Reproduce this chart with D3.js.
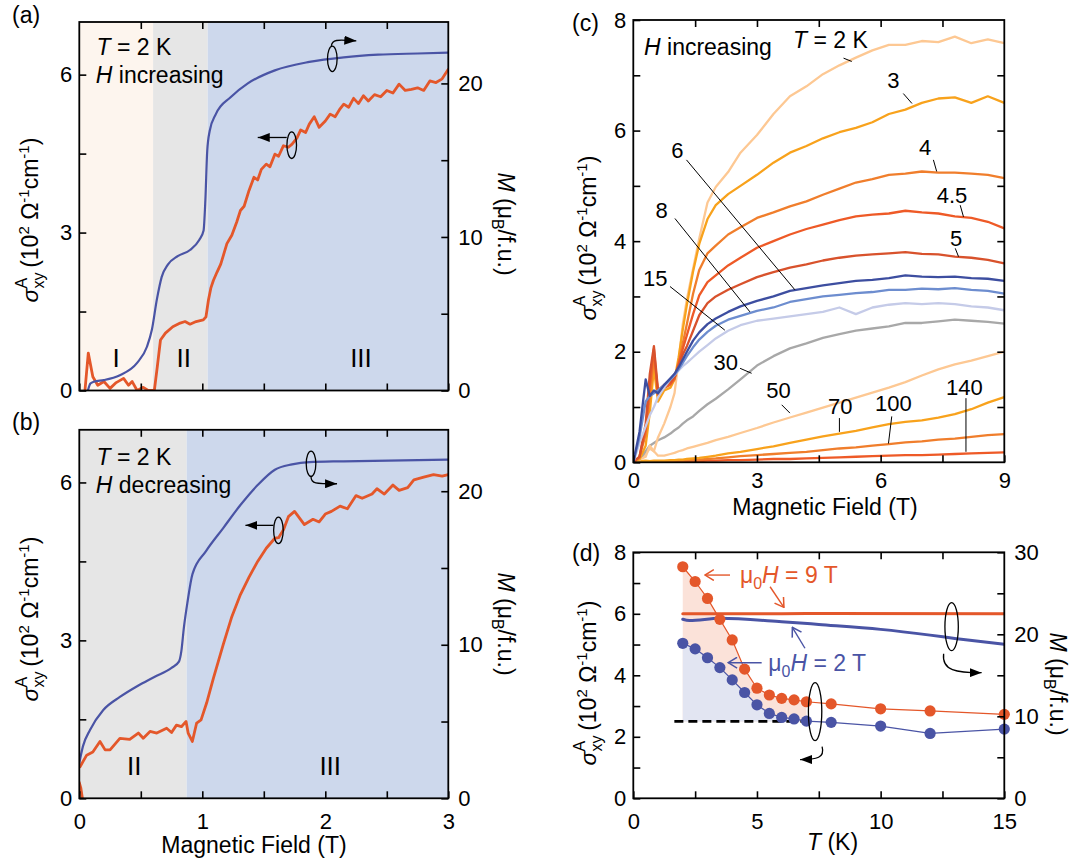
<!DOCTYPE html>
<html>
<head>
<meta charset="utf-8">
<script src="https://cdn.jsdelivr.net/npm/d3@7"></script>
<style>
body { margin: 0; background: #fff; }
svg { display: block; font-family: 'Liberation Sans', Arial, Helvetica, sans-serif; }
</style>
</head>
<body>
<svg></svg>
<script>

// ---------- data: panel (a), T = 2 K, H increasing ----------
let aRegionEdges = [0, 0.6, 1.044, 3]
let aRegionNames = ['I', 'II', 'III']
let aMField = [0.07, 0.09, 0.12, 0.2, 0.33, 0.47, 0.55, 0.59, 0.63, 0.67, 0.72, 0.8, 0.9, 0.975, 1.01, 1.025, 1.04, 1.06, 1.11, 1.23, 1.37, 1.59, 1.87, 2.15, 2.43, 2.75, 3.0]
let aM = [0, 0.45, 0.58, 0.68, 1.0, 1.8, 2.85, 3.95, 5.9, 7.4, 8.2, 8.75, 9.15, 9.8, 10.4, 12.4, 15.6, 16.9, 18.0, 19.1, 20.0, 20.85, 21.4, 21.7, 21.87, 21.95, 22.0]
let aSigField = [0.046, 0.073, 0.11, 0.15, 0.2, 0.25, 0.3, 0.36, 0.4, 0.43, 0.47, 0.52, 0.56, 0.61, 0.634, 0.66, 0.7, 0.76, 0.82, 0.86, 0.9, 0.95, 1.008, 1.03,
    1.05, 1.07, 1.09, 1.12, 1.15, 1.2, 1.24, 1.28, 1.31, 1.34, 1.38, 1.42, 1.45, 1.48, 1.52, 1.55, 1.59, 1.62, 1.66, 1.7, 1.73, 1.77, 1.8, 1.84, 1.87, 1.91,
    1.95, 2.0, 2.04, 2.08, 2.12, 2.15, 2.19, 2.23, 2.27, 2.31, 2.35, 2.4, 2.45, 2.5, 2.55, 2.6, 2.65, 2.7, 2.75, 2.8, 2.85, 2.9, 2.95, 3.0]
let aSig = [0, 0.71, 0.26, 0.1, 0.17, 0.04, 0.15, 0.23, 0.1, 0.17, 0, 0.06, 0, 0, 0.45, 0.96, 1.09, 1.21, 1.28, 1.31, 1.26, 1.31, 1.34, 1.4,
    1.72, 1.95, 2.09, 2.25, 2.4, 2.79, 2.95, 3.2, 3.42, 3.5, 3.8, 4.05, 4.0, 4.2, 4.3, 4.25, 4.49, 4.45, 4.65, 4.62, 4.68, 4.8, 4.95, 4.9, 5.06, 5.2,
    5.0, 5.12, 5.25, 5.2, 5.35, 5.44, 5.38, 5.55, 5.45, 5.6, 5.5, 5.62, 5.58, 5.7, 5.65, 5.82, 5.7, 5.72, 5.75, 5.7, 5.88, 5.85, 5.92, 6.1]

// ---------- data: panel (b), T = 2 K, H decreasing ----------
let bRegionEdges = [0, 0.873, 3]
let bRegionNames = ['II', 'III']
let bMField = [0, 0.03, 0.087, 0.195, 0.33, 0.47, 0.61, 0.75, 0.81, 0.83, 0.85, 0.88, 0.92, 1.03, 1.17, 1.31, 1.45, 1.59, 1.73, 1.87, 2.15, 3.0]
let bM = [2.3, 3.4, 4.45, 5.75, 6.6, 7.3, 7.9, 8.5, 8.9, 9.6, 11.1, 12.8, 14.6, 16.1, 17.6, 19.1, 20.4, 21.4, 21.75, 21.9, 21.95, 22.06]
let bSigField = [0.006, 0.06, 0.11, 0.168, 0.21, 0.25, 0.33, 0.41, 0.48, 0.52, 0.575, 0.63, 0.71, 0.75, 0.79, 0.83, 0.868, 0.885, 0.919, 0.954, 0.99, 1.035,
    1.09, 1.17, 1.24, 1.31, 1.38, 1.45, 1.52, 1.59, 1.62, 1.66, 1.7, 1.75, 1.83, 1.9, 1.95, 2.0, 2.05, 2.12, 2.18, 2.25, 2.3, 2.38, 2.42, 2.48, 2.55, 2.6,
    2.67, 2.72, 2.8, 2.88, 2.95, 3.0]
let bSig = [0.6, 0.82, 0.88, 1.08, 0.92, 0.92, 1.14, 1.12, 1.24, 1.14, 1.27, 1.24, 1.33, 1.25, 1.39, 1.36, 1.46, 1.24, 1.08, 1.43, 1.49, 1.81,
    2.28, 2.92, 3.45, 3.87, 4.2, 4.5, 4.75, 4.94, 4.95, 5.1, 5.35, 5.45, 5.2, 5.3, 5.25, 5.4, 5.45, 5.55, 5.5, 5.75, 5.7, 5.78, 5.88, 5.78, 5.95, 5.85,
    5.9, 6.05, 6.1, 6.15, 6.12, 6.15]
let bStubField = [0, 0.012, 0.025]
let bStub = [0.3, 0.2, 0]

// ---------- data: panel (c), sigma vs field for each T ----------
let cField = [0, 0.15, 0.3, 0.4, 0.5, 0.6, 0.75, 0.9, 1.0, 1.1, 1.2, 1.3, 1.45, 1.6, 1.8, 2.0, 2.3, 2.6, 3.0, 3.4, 3.8, 4.2, 4.6, 5.0, 5.4, 5.8, 6.2, 6.6, 7.0, 7.4, 7.8, 8.2, 8.6, 9.0]
let cT2 = [0, 0.05, 0.1, 0.3, 0.2, 0.45, 0.7, 1.0, 1.25, 1.85, 2.5, 2.95, 3.5, 4.05, 4.7, 4.98, 5.25, 5.6, 5.92, 6.3, 6.62, 6.8, 7.02, 7.18, 7.32, 7.45, 7.55, 7.55, 7.62, 7.6, 7.7, 7.58, 7.65, 7.58]
let cT3 = [0, 0.05, 0.3, 0.9, 1.7, 1.1, 1.3, 1.35, 1.5, 1.9, 2.4, 2.85, 3.45, 3.95, 4.4, 4.65, 4.85, 5.0, 5.2, 5.42, 5.6, 5.72, 5.86, 5.97, 6.05, 6.15, 6.3, 6.38, 6.5, 6.58, 6.6, 6.5, 6.62, 6.5]
let cT4 = [0, 0.1, 0.5, 1.2, 1.9, 1.3, 1.35, 1.4, 1.5, 1.8, 2.15, 2.5, 3.05, 3.48, 3.78, 3.92, 4.12, 4.25, 4.42, 4.52, 4.63, 4.72, 4.84, 4.95, 5.06, 5.12, 5.2, 5.22, 5.26, 5.24, 5.24, 5.22, 5.2, 5.14]
let cT45 = [0, 0.1, 0.6, 1.4, 2.05, 1.2, 1.35, 1.42, 1.52, 1.78, 2.05, 2.3, 2.68, 3.02, 3.26, 3.38, 3.56, 3.7, 3.88, 4.0, 4.12, 4.22, 4.3, 4.38, 4.45, 4.48, 4.5, 4.55, 4.52, 4.5, 4.45, 4.42, 4.35, 4.23]
let cT5 = [0, 0.1, 0.7, 1.6, 2.1, 1.3, 1.4, 1.45, 1.55, 1.75, 1.95, 2.1, 2.38, 2.66, 2.88, 3.0, 3.12, 3.22, 3.35, 3.44, 3.52, 3.58, 3.65, 3.7, 3.74, 3.76, 3.78, 3.8, 3.77, 3.76, 3.72, 3.7, 3.66, 3.6]
let cT6 = [0, 0.55, 1.5, 1.2, 1.3, 1.25, 1.4, 1.52, 1.6, 1.72, 1.86, 2.0, 2.2, 2.35, 2.5, 2.6, 2.72, 2.82, 2.92, 3.0, 3.1, 3.15, 3.2, 3.24, 3.28, 3.3, 3.33, 3.38, 3.36, 3.35, 3.36, 3.33, 3.32, 3.28]
let cT8 = [0, 0.45, 1.1, 1.2, 1.25, 1.3, 1.4, 1.5, 1.58, 1.68, 1.8, 1.92, 2.08, 2.22, 2.36, 2.47, 2.58, 2.65, 2.74, 2.8, 2.9, 2.95, 3.0, 3.03, 3.06, 3.08, 3.12, 3.12, 3.14, 3.13, 3.15, 3.12, 3.1, 3.05]
let cT15 = [0, 0.35, 0.65, 0.85, 1.0, 1.18, 1.35, 1.5, 1.58, 1.66, 1.74, 1.8, 1.9, 2.0, 2.12, 2.24, 2.38, 2.48, 2.56, 2.6, 2.64, 2.68, 2.72, 2.8, 2.68, 2.8, 2.85, 2.88, 2.86, 2.88, 2.86, 2.82, 2.8, 2.75]
let cT30 = [0, 0.05, 0.2, 0.3, 0.35, 0.4, 0.45, 0.52, 0.58, 0.63, 0.7, 0.76, 0.83, 0.93, 1.05, 1.15, 1.32, 1.5, 1.75, 1.92, 2.06, 2.15, 2.25, 2.32, 2.38, 2.42, 2.46, 2.52, 2.52, 2.55, 2.58, 2.56, 2.54, 2.51]
let cT50 = [0, 0.05, 0.15, 0.25, 0.2, 0.12, 0.12, 0.15, 0.17, 0.2, 0.22, 0.25, 0.28, 0.31, 0.35, 0.4, 0.46, 0.53, 0.62, 0.72, 0.81, 0.9, 0.99, 1.08, 1.17, 1.26, 1.35, 1.45, 1.57, 1.68, 1.77, 1.84, 1.92, 2.0]
let cT70 = [0, 0.02, 0.03, 0.02, 0.03, 0.03, 0.03, 0.04, 0.04, 0.05, 0.05, 0.06, 0.07, 0.08, 0.1, 0.12, 0.16, 0.19, 0.24, 0.29, 0.35, 0.41, 0.47, 0.52, 0.57, 0.63, 0.69, 0.73, 0.76, 0.81, 0.87, 0.96, 1.08, 1.18]
let cT100 = [0, 0.01, 0.01, 0.01, 0.01, 0.02, 0.02, 0.02, 0.03, 0.03, 0.03, 0.04, 0.04, 0.05, 0.06, 0.07, 0.09, 0.11, 0.13, 0.15, 0.17, 0.19, 0.22, 0.25, 0.27, 0.3, 0.33, 0.36, 0.38, 0.41, 0.43, 0.46, 0.49, 0.51]
let cT140 = [0, 0, 0, 0, 0.01, 0.01, 0.01, 0.01, 0.01, 0.01, 0.02, 0.02, 0.02, 0.02, 0.03, 0.03, 0.04, 0.04, 0.05, 0.06, 0.06, 0.07, 0.08, 0.09, 0.1, 0.11, 0.12, 0.13, 0.13, 0.14, 0.15, 0.16, 0.17, 0.18]
let cLabels = ['3', '4', '4.5', '5', '6', '8', '15', '30', '50', '70', '100', '140']
let cLabelPos = [[6.31, 6.91], [7.08, 5.71], [7.73, 4.83], [7.83, 4.05], [1.07, 5.65], [0.69, 4.56], [0.53, 3.33], [2.24, 1.82], [3.52, 1.31], [5.02, 1.01], [6.31, 1.07], [8.03, 1.37]]
let cLeaders = [[6.55, 6.67, 6.76, 6.49], [7.28, 5.47, 7.36, 5.26], [7.93, 4.65, 8.01, 4.44], [7.81, 3.87, 7.89, 3.72], [1.29, 5.47, 3.92, 3.12], [1.01, 4.41, 2.83, 2.72],
    [0.89, 3.18, 2.22, 2.39], [2.59, 1.7, 2.87, 1.61], [3.6, 1.04, 3.8, 0.89], [5.0, 0.8, 5.0, 0.55], [6.27, 0.83, 6.19, 0.34], [8.07, 1.16, 8.07, 0.19]]
let cLeader2K = [5.1, 7.31, 5.3, 7.25]

// ---------- data: panel (d), sigma and M vs T ----------
let dT = [2, 2.5, 3, 3.5, 4, 4.5, 5, 5.5, 6, 6.5, 7, 8, 10, 12, 15]
let dSig9T = [7.53, 7.05, 6.5, 5.82, 5.15, 4.2, 3.58, 3.36, 3.25, 3.2, 3.14, 3.07, 2.91, 2.84, 2.73]
let dSig2T = [5.04, 4.86, 4.57, 4.25, 3.85, 3.44, 3.04, 2.76, 2.63, 2.58, 2.51, 2.47, 2.35, 2.11, 2.25]
let dMT9 = [2, 6, 8, 15]
let dM9T = [22.5, 22.5, 22.55, 22.5]
let dMT2 = [2, 2.27, 3.5, 6, 7.5, 10, 12, 13, 15]
let dM2T = [21.83, 21.67, 21.95, 21.54, 21.2, 20.6, 19.9, 19.5, 18.78]
let dBaseline = 2.5

let red = '#e4572a'
let blue = '#4a54a5'

let svg = d3.select('svg').attr('width', 1070).attr('height', 861)
let defs = svg.append('defs')

let addMarker = (id, color, open) => {
    let m = defs.append('marker').attr('id', id)
        .attr('viewBox', '0 0 10 10').attr('refX', open ? 9 : 10).attr('refY', 5)
        .attr('markerUnits', 'userSpaceOnUse')
        .attr('markerWidth', open ? 11 : 12).attr('markerHeight', open ? 12 : 9)
        .attr('preserveAspectRatio', 'none')
        .attr('orient', 'auto')
    if (open) {
        m.append('path').attr('d', 'M1,0.5 L9,5 L1,9.5').attr('fill', 'none').attr('stroke', color).attr('stroke-width', 1.3)
    } else {
        m.append('path').attr('d', 'M0,0 L10,5 L0,10 Z').attr('fill', color)
    }
}
addMarker('headK', '#000', false)
addMarker('headR', red, true)
addMarker('headB', blue, true)

let makePanel = (name, x0, y0, w, h) => {
    let g = svg.append('g').attr('transform', `translate(${x0},${y0})`)
    defs.append('clipPath').attr('id', 'clip-' + name).append('rect').attr('width', w).attr('height', h)
    let plot = g.append('g').attr('clip-path', `url(#clip-${name})`)
    return { g, plot, w, h, x0, y0 }
}

let addAxis = (p, side, scale, ticks, labels, padding) => {
    let fn = { left: d3.axisLeft, right: d3.axisRight, bottom: d3.axisBottom, top: d3.axisTop }[side]
    let pad = padding || (side === 'bottom' ? 15 : side === 'right' ? 10 : 7)
    let ax = fn(scale).tickValues(ticks).tickSizeInner(-7).tickSizeOuter(0).tickPadding(pad)
        .tickFormat(d => labels.indexOf(d) >= 0 ? d : '')
    let a = p.g.append('g')
    if (side === 'right') a.attr('transform', `translate(${p.w},0)`)
    if (side === 'bottom') a.attr('transform', `translate(0,${p.h})`)
    a.call(ax)
    a.attr('font-family', null).attr('font-size', null)
    a.select('.domain').remove()
    a.selectAll('.tick line').attr('stroke', '#000').attr('stroke-width', 1.6)
    a.selectAll('.tick text').attr('fill', '#000').style('font-size', '22px')
}

let frame = (p) => {
    p.g.append('rect').attr('width', p.w).attr('height', p.h)
       .attr('fill', 'none').attr('stroke', '#000').attr('stroke-width', 1.8)
}

let drawLine = (p, xs, ys, x, y, color, w, smooth) => {
    let pts = xs.map((v, i) => [v, ys[i]])
    let line = d3.line().x(d => x(d[0])).y(d => y(d[1]))
    if (smooth) line.curve(d3.curveMonotoneX)
    p.plot.append('path').datum(pts)
       .attr('fill', 'none').attr('stroke', color).attr('stroke-width', w)
       .attr('stroke-linejoin', 'round').attr('stroke-linecap', 'round')
       .attr('d', line)
}

let sigmaLabel = (cx, cy) => {
    let t = svg.append('text').attr('transform', `translate(${cx},${cy}) rotate(-90)`)
        .attr('text-anchor', 'middle').attr('y', 8).style('font-size', '23px')
    t.append('tspan').attr('font-style', 'italic').text('σ')
    t.append('tspan').style('font-size', '16px').attr('dy', 6).text('xy')
    t.append('tspan').style('font-size', '16px').attr('dx', -16).attr('dy', -17).text('A')
    t.append('tspan').attr('dx', 10).attr('dy', 11).text('(10')
    t.append('tspan').style('font-size', '15px').attr('dy', -9).text('2')
    t.append('tspan').attr('dy', 9).text(' Ω')
    t.append('tspan').style('font-size', '15px').attr('dy', -9).text('-1')
    t.append('tspan').attr('dy', 9).text('cm')
    t.append('tspan').style('font-size', '15px').attr('dy', -9).text('-1')
    t.append('tspan').attr('dy', 9).text(')')
}

let mLabel = (cx, cy) => {
    let t = svg.append('text').attr('transform', `translate(${cx},${cy}) rotate(90)`)
        .attr('text-anchor', 'middle').attr('y', 8).style('font-size', '23px')
    t.append('tspan').attr('font-style', 'italic').text('M')
    t.append('tspan').text(' (μ')
    t.append('tspan').style('font-size', '16px').attr('dy', 6).text('B')
    t.append('tspan').attr('dy', -6).text('/f.u.)')
}

let plainText = (x, y, str, size, anchor) => {
    return svg.append('text').attr('x', x).attr('y', y).attr('text-anchor', anchor || 'start')
              .style('font-size', size + 'px').text(str)
}

let italicLead = (g, x, y, lead, rest, size, color) => {
    let t = g.append('text').attr('x', x).attr('y', y).style('font-size', size + 'px').attr('fill', color || '#000')
    t.append('tspan').attr('font-style', 'italic').text(lead)
    t.append('tspan').text(rest)
    return t
}

let ellipseArrow = (p, cx, cy, ry, path) => {
    p.g.append('ellipse').attr('cx', cx).attr('cy', cy).attr('rx', 4.8).attr('ry', ry)
       .attr('fill', 'none').attr('stroke', '#000').attr('stroke-width', 1.3)
    p.g.append('path').attr('transform', `translate(${cx},${cy})`).attr('d', path)
       .attr('fill', 'none').attr('stroke', '#000').attr('stroke-width', 1.3).attr('marker-end', 'url(#headK)')
}

// ---------- panels (a) and (b) ----------
let fieldPanel = (name, y0, edges, names, regionColors, mField, mVals, sField, sVals, ell1, arr1, ell2, arr2) => {
    let p = makePanel(name, 79.3, y0, 369, 368.5)
    let x = d3.scaleLinear().domain([0, 3]).range([0, p.w])
    let yS = d3.scaleLinear().domain([0, 7]).range([p.h, 0])
    let yM = d3.scaleLinear().domain([0, 24]).range([p.h, 0])

    p.plot.selectAll('rect.region')
        .data(names)
        .enter()
        .append('rect')
        .attr('class', 'region')
        .attr('x', (d, i) => x(edges[i]))
        .attr('width', (d, i) => x(edges[i + 1]) - x(edges[i]))
        .attr('y', 0)
        .attr('height', p.h)
        .attr('fill', (d, i) => regionColors[i])

    p.g.selectAll('text.region')
        .data(names)
        .enter()
        .append('text')
        .attr('class', 'region')
        .attr('x', (d, i) => x(name === 'a' ? [0.3, 0.85, 2.29][i] : [0.447, 2.04][i]))
        .attr('y', yS(0.62) + 9)
        .attr('text-anchor', 'middle')
        .style('font-size', '26px')
        .text(d => d)

    drawLine(p, sField, sVals, x, yS, red, 2.8)
    if (name === 'b') drawLine(p, bStubField, bStub, x, yS, red, 2.8)
    drawLine(p, mField, mVals, x, yM, blue, 2.2, true)

    ellipseArrow(p, x(ell1[0]), yS(ell1[1]), 12.7, arr1)
    ellipseArrow(p, x(ell2[0]), yS(ell2[1]), 13.3, arr2)

    addAxis(p, 'left', yS, [0, 1.5, 3, 4.5, 6], [0, 3, 6])
    addAxis(p, 'right', yM, [0, 5, 10, 15, 20], [0, 10, 20])
    addAxis(p, 'bottom', x, [0, 0.5, 1, 1.5, 2, 2.5, 3], name === 'b' ? [0, 1, 2, 3] : [])
    addAxis(p, 'top', x, [0.5, 1, 1.5, 2, 2.5], [])
    frame(p)
    return p
}

let pa = fieldPanel('a', 22, aRegionEdges, aRegionNames, ['#fdf5ee', '#e6e6e6', '#cdd8ec'], aMField, aM, aSigField, aSig,
    [2.057, 6.3], 'M-1,-13 C0,-20 6,-19 24,-18', [1.727, 4.66], 'M-5,-7.7 L-34,-7.7')
let pb = fieldPanel('b', 429.8, bRegionEdges, bRegionNames, ['#e6e6e6', '#cdd8ec'], bMField, bM, bSigField, bSig,
    [1.884, 6.355], 'M0,13 C0,20 4,20 26,20', [1.619, 5.09], 'M-5,-5 L-33,-5')

italicLead(svg, 96.5, 55, 'T', ' = 2 K', 23)
italicLead(svg, 95.8, 83, 'H', ' increasing', 23)
italicLead(svg, 96.5, 465, 'T', ' = 2 K', 23)
italicLead(svg, 95.8, 493, 'H', ' decreasing', 23)

sigmaLabel(29.6, 220)
sigmaLabel(29.6, 619)
mLabel(506, 224)
mLabel(506, 624)
plainText(254, 853, 'Magnetic Field (T)', 23, 'middle')
plainText(12, 23, '(a)', 23)
plainText(12, 430, '(b)', 23)

// ---------- panel (c) ----------
let pc = makePanel('c', 633.3, 20, 371, 442.3)
let xc = d3.scaleLinear().domain([0, 9]).range([0, pc.w])
let yc = d3.scaleLinear().domain([0, 8]).range([pc.h, 0])

let cSeries = [
    { values: cT140, color: '#ee5a27' },
    { values: cT100, color: '#f07e2c' },
    { values: cT70, color: '#f8a21c' },
    { values: cT50, color: '#fdc893' },
    { values: cT30, color: '#a8a8a8' },
    { values: cT2, color: '#fdc893' },
    { values: cT3, color: '#f8a21c' },
    { values: cT4, color: '#f07e2c' },
    { values: cT45, color: '#ee5a27' },
    { values: cT5, color: '#d8522c' },
    { values: cT15, color: '#c5cbe8' },
    { values: cT8, color: '#6d8dcf' },
    { values: cT6, color: '#3d4ea0' }
]
cSeries.forEach(s => drawLine(pc, cField, s.values, xc, yc, s.color, 2.3))

pc.g.selectAll('line.leader')
    .data(cLeaders.concat([cLeader2K]))
    .enter()
    .append('line')
    .attr('class', 'leader')
    .attr('x1', d => xc(d[0])).attr('y1', d => yc(d[1]))
    .attr('x2', d => xc(d[2])).attr('y2', d => yc(d[3]))
    .attr('stroke', '#000').attr('stroke-width', 1)

pc.g.selectAll('text.tlabel')
    .data(cLabels)
    .enter()
    .append('text')
    .attr('class', 'tlabel')
    .attr('x', (d, i) => xc(cLabelPos[i][0]))
    .attr('y', (d, i) => yc(cLabelPos[i][1]) + 8)
    .attr('text-anchor', 'middle')
    .style('font-size', '22px')
    .text(d => d)

addAxis(pc, 'left', yc, [0, 1, 2, 3, 4, 5, 6, 7, 8], [0, 2, 4, 6, 8])
addAxis(pc, 'right', yc, [1, 2, 3, 4, 5, 6, 7], [])
addAxis(pc, 'bottom', xc, [0, 1.5, 3, 4.5, 6, 7.5, 9], [0, 3, 6, 9], 10)
addAxis(pc, 'top', xc, [1.5, 3, 4.5, 6, 7.5], [])
frame(pc)

italicLead(svg, 644, 55, 'H', ' increasing', 23)
italicLead(svg, 793, 48, 'T', ' = 2 K', 23)
sigmaLabel(588, 238)
plainText(825, 515, 'Magnetic Field (T)', 23, 'middle')
plainText(572, 31, '(c)', 23)

// ---------- panel (d) ----------
let pd = makePanel('d', 633.3, 552.3, 371, 246)
let xd = d3.scaleLinear().domain([0, 15]).range([0, pd.w])
let yd = d3.scaleLinear().domain([0, 8]).range([pd.h, 0])
let yMd = d3.scaleLinear().domain([0, 30]).range([pd.h, 0])

let fillPts = dT.map((t, i) => [t, dSig9T[i], dSig2T[i]]).filter(d => d[0] <= 7)
pd.plot.append('path').datum(fillPts)
    .attr('fill', '#fbe2d9')
    .attr('d', d3.area().x(d => xd(d[0])).y0(yd(dBaseline)).y1(d => yd(d[1])))
pd.plot.append('path').datum(fillPts)
    .attr('fill', '#e2e5f2')
    .attr('d', d3.area().x(d => xd(d[0])).y0(yd(dBaseline)).y1(d => yd(d[2])))

pd.plot.append('line')
    .attr('x1', xd(1.66)).attr('x2', xd(7.15))
    .attr('y1', yd(dBaseline)).attr('y2', yd(dBaseline))
    .attr('stroke', '#000').attr('stroke-width', 2.6).attr('stroke-dasharray', '9,5')

drawLine(pd, dMT9, dM9T, xd, yMd, red, 3, true)
drawLine(pd, dMT2, dM2T, xd, yMd, blue, 3, true)

drawLine(pd, dT, dSig9T, xd, yd, red, 1.2)
drawLine(pd, dT, dSig2T, xd, yd, blue, 1.2)

pd.g.selectAll('circle.r9')
    .data(dT)
    .enter()
    .append('circle')
    .attr('class', 'r9')
    .attr('cx', d => xd(d))
    .attr('cy', (d, i) => yd(dSig9T[i]))
    .attr('r', 5.6)
    .attr('fill', red)

pd.g.selectAll('circle.b2')
    .data(dT)
    .enter()
    .append('circle')
    .attr('class', 'b2')
    .attr('cx', d => xd(d))
    .attr('cy', (d, i) => yd(dSig2T[i]))
    .attr('r', 5.6)
    .attr('fill', blue)

// annotations
let fieldText = (x, y, val, color) => {
    let t = pd.g.append('text').attr('x', x).attr('y', y).style('font-size', '23px').attr('fill', color)
    t.append('tspan').text('μ')
    t.append('tspan').style('font-size', '16px').attr('dy', 6).text('0')
    t.append('tspan').attr('dy', -6).attr('font-style', 'italic').text('H')
    t.append('tspan').text(' = ' + val + ' T')
}
fieldText(xd(4.31), yd(7.26) + 8, '9', red)
fieldText(xd(5.46), yd(4.41) + 8, '2', blue)

let arrowLine = (x1, y1, x2, y2, color, head) => {
    pd.g.append('line').attr('x1', xd(x1)).attr('y1', yd(y1)).attr('x2', xd(x2)).attr('y2', yd(y2))
        .attr('stroke', color).attr('stroke-width', 1.4).attr('marker-end', `url(#${head})`)
}
arrowLine(3.91, 7.26, 2.9, 7.26, red, 'headR')
arrowLine(5.53, 6.88, 6.09, 6.21, red, 'headR')
arrowLine(5.19, 4.41, 3.84, 4.41, blue, 'headB')
arrowLine(6.94, 4.88, 6.43, 5.56, blue, 'headB')

pd.g.append('ellipse').attr('cx', xd(12.87)).attr('cy', yd(5.58)).attr('rx', 6.7).attr('ry', 24)
    .attr('fill', 'none').attr('stroke', '#000').attr('stroke-width', 1.3)
pd.g.append('path').attr('transform', `translate(${xd(12.87)},${yd(5.58)})`)
    .attr('d', 'M-8,27 C-10,44 5,46 30,46')
    .attr('fill', 'none').attr('stroke', '#000').attr('stroke-width', 1.3).attr('marker-end', 'url(#headK)')
pd.g.append('ellipse').attr('cx', xd(7.35)).attr('cy', yd(2.82)).attr('rx', 6.7).attr('ry', 29)
    .attr('fill', 'none').attr('stroke', '#000').attr('stroke-width', 1.3)
pd.g.append('path').attr('transform', `translate(${xd(7.35)},${yd(2.82)})`)
    .attr('d', 'M7,35 C10,46 2,48 -15,48')
    .attr('fill', 'none').attr('stroke', '#000').attr('stroke-width', 1.3).attr('marker-end', 'url(#headK)')

addAxis(pd, 'left', yd, [0, 1, 2, 3, 4, 5, 6, 7, 8], [0, 2, 4, 6, 8])
addAxis(pd, 'right', yMd, [0, 5, 10, 15, 20, 25, 30], [0, 10, 20, 30])
addAxis(pd, 'bottom', xd, [0, 2.5, 5, 7.5, 10, 12.5, 15], [0, 5, 10, 15])
addAxis(pd, 'top', xd, [2.5, 5, 7.5, 10, 12.5], [])
frame(pd)

sigmaLabel(588, 683)
mLabel(1058, 684)
italicLead(svg, 807, 850, 'T', ' (K)', 23)
plainText(572, 561, '(d)', 23)

</script>
</body>
</html>
